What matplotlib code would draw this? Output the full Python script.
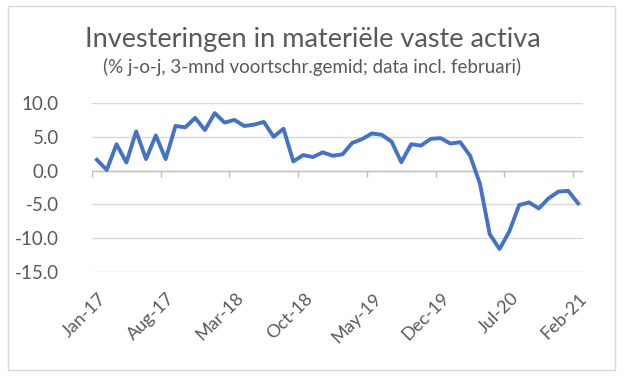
import matplotlib
matplotlib.use("Agg")
import matplotlib.pyplot as plt
from matplotlib.patches import Rectangle
import numpy as np

# ---- data ----
values = [1.6, 0.1, 3.9, 1.2, 5.8, 1.7, 5.2, 1.7, 6.6, 6.4,
          7.8, 6.0, 8.5, 7.1, 7.5, 6.6, 6.8, 7.2, 5.0, 6.2,
          1.35, 2.3, 2.0, 2.7, 2.2, 2.4, 4.1, 4.65, 5.5, 5.3,
          4.3, 1.25, 3.9, 3.7, 4.7, 4.8, 4.0, 4.2, 2.2, -1.9,
          -9.4, -11.6, -9.0, -5.1, -4.7, -5.6, -4.1, -3.1, -3.0, -4.85]
tick_labels = ["Jan-17", "Aug-17", "Mar-18", "Oct-18", "May-19", "Dec-19", "Jul-20", "Feb-21"]
yticks = [10.0, 5.0, 0.0, -5.0, -10.0, -15.0]
title = "Investeringen in materiële vaste activa"
subtitle = "(% j-o-j, 3-mnd voortschr.gemid; data incl. februari)"

W, H = 625, 379
fig = plt.figure(figsize=(W / 100, H / 100), dpi=100)
FONT = ["Lato", "DejaVu Sans"]
TXT = "#595959"

# chart border
fig.patches.append(Rectangle((8 / W, 1 - 370 / H), 607 / W, 364 / H, transform=fig.transFigure,
                             fill=False, edgecolor="#D9D9D9", linewidth=1.0))

ax = fig.add_axes([92 / W, 1 - 272 / H, 491 / W, 169 / H])
n = len(values)
x = np.arange(n) + 0.5
ax.set_xlim(0, n)
ax.set_ylim(-15, 10)
for s in ax.spines.values():
    s.set_visible(False)
ax.set_yticks(yticks)
ax.set_yticklabels([f"{v:.1f}" for v in yticks], fontsize=13.5, color=TXT, family=FONT)
ax.tick_params(axis="y", length=0, pad=24)
ax.grid(axis="y", color="#D9D9D9", linewidth=1.0)
ax.set_axisbelow(True)

# category axis at zero with tick marks between categories
ax.axhline(0, color="#BFBFBF", linewidth=1.0, zorder=1)
tick_pos = np.arange(0, n, 7)
ax.vlines(tick_pos, -0.95, 0, color="#BFBFBF", linewidth=1.0, zorder=1)

ax.set_xticks(tick_pos + 0.6)
ax.set_xticklabels(tick_labels, rotation=45, ha="right", va="top", rotation_mode="anchor",
                   fontsize=13, color=TXT, family=FONT)
ax.tick_params(axis="x", length=0, pad=13)

ax.plot(x, values, color="#4472C4", linewidth=2.8, solid_joinstyle="round", zorder=3)

t1 = fig.text(0.5, 1 - 40 / H, title, ha="center", va="center", fontsize=19, color=TXT,
              family=FONT, fontweight="normal")
t2 = fig.text(0.5, 1 - 67 / H, subtitle, ha="center", va="center", fontsize=12.5, color=TXT, family=FONT)

# fit widths of title texts
fig.canvas.draw()
r = fig.canvas.get_renderer()
for t, target in ((t1, 457), (t2, 420)):
    w = t.get_window_extent(r).width
    t.set_fontsize(t.get_fontsize() * target / w)

fig.savefig("out.png", dpi=100)
